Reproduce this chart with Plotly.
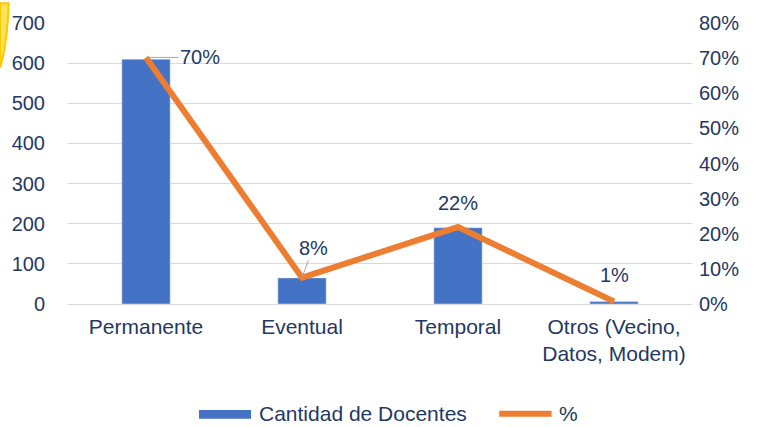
import plotly.graph_objects as go

categories = ["Permanente", "Eventual", "Temporal", "Otros (Vecino,<br>Datos, Modem)"]
docentes = [610, 65, 190, 6]
porcentaje = [0.702, 0.075, 0.219, 0.007]
pct_labels = ["70%", "8%", "22%", "1%"]

NAVY = "#1F3864"
BLUE = "#4472C4"
ORANGE = "#ED7D31"
GRID = "#D9D9D9"
FONT = "Liberation Sans, Arial, sans-serif"

fig = go.Figure()
fig.add_trace(go.Bar(x=categories, y=docentes, name="Cantidad de Docentes",
                     marker_color=BLUE, showlegend=False))
fig.add_trace(go.Scatter(x=categories, y=porcentaje, name="%", yaxis="y2",
                         mode="lines", line=dict(color=ORANGE, width=6),
                         showlegend=False))

# data labels (offsets in px relative to the line points)
offsets = [(54, 0), (11, -30), (0, -24), (0, -27)]
leader = [True, True, False, False]
for cat, val, lab, (ax, ay), ld in zip(categories, porcentaje, pct_labels, offsets, leader):
    fig.add_annotation(x=cat, y=val, xref="x", yref="y2", text=lab,
                       showarrow=True, arrowhead=0, arrowwidth=1,
                       arrowcolor="#A6A6A6" if ld else "rgba(0,0,0,0)",
                       ax=ax, ay=ay, font=dict(size=20, color=NAVY, family=FONT))

# legend drawn by hand to get the wide Excel-style swatches
fig.add_shape(type="rect", xref="paper", yref="paper", x0=0.2099, x1=0.2933,
              y0=-0.4085, y1=-0.3768, fillcolor=BLUE, line_width=0)
fig.add_shape(type="line", xref="paper", yref="paper", x0=0.691, x1=0.775,
              y0=-0.3908, y1=-0.3908, line=dict(color=ORANGE, width=6))
fig.add_annotation(xref="paper", yref="paper", x=0.3029, y=-0.3908, xanchor="left",
                   yanchor="middle", showarrow=False, text="Cantidad de Docentes",
                   font=dict(size=21, color=NAVY, family=FONT))
fig.add_annotation(xref="paper", yref="paper", x=0.7837, y=-0.3908, xanchor="left",
                   yanchor="middle", showarrow=False, text="%",
                   font=dict(size=21, color=NAVY, family=FONT))

# yellow decoration at the top-left corner of the slide
fig.add_shape(type="path", xref="paper", yref="paper",
              path="M -0.109,1.07 L -0.095,1.07 Q -0.097,0.93 -0.109,0.84 Z",
              fillcolor="#FFE45C", line=dict(color="#FFC800", width=2), layer="above")

fig.update_layout(
    width=759, height=427,
    margin=dict(l=68, r=67, t=20, b=123),
    paper_bgcolor="white", plot_bgcolor="white",
    bargap=0.69,
    font=dict(family=FONT, size=20, color=NAVY),
    xaxis=dict(showgrid=False, showline=False, ticks="", ticklabelstandoff=8,
               tickfont=dict(size=21, color=NAVY)),
    yaxis=dict(range=[0, 700], dtick=100, showgrid=True, gridcolor=GRID, gridwidth=1,
               zeroline=True, zerolinecolor=GRID, zerolinewidth=1, showline=False,
               ticks="", ticklabelstandoff=22, tickfont=dict(size=20, color=NAVY)),
    yaxis2=dict(range=[0, 0.8], dtick=0.1, tickformat=".0%", overlaying="y", side="right",
                showgrid=False, zeroline=False, showline=False, ticks="",
                ticklabelstandoff=6, tickfont=dict(size=20, color=NAVY)),
)

fig.write_html("out.html", config={"displayModeBar": False},
               post_script="document.body.style.margin='0';")
